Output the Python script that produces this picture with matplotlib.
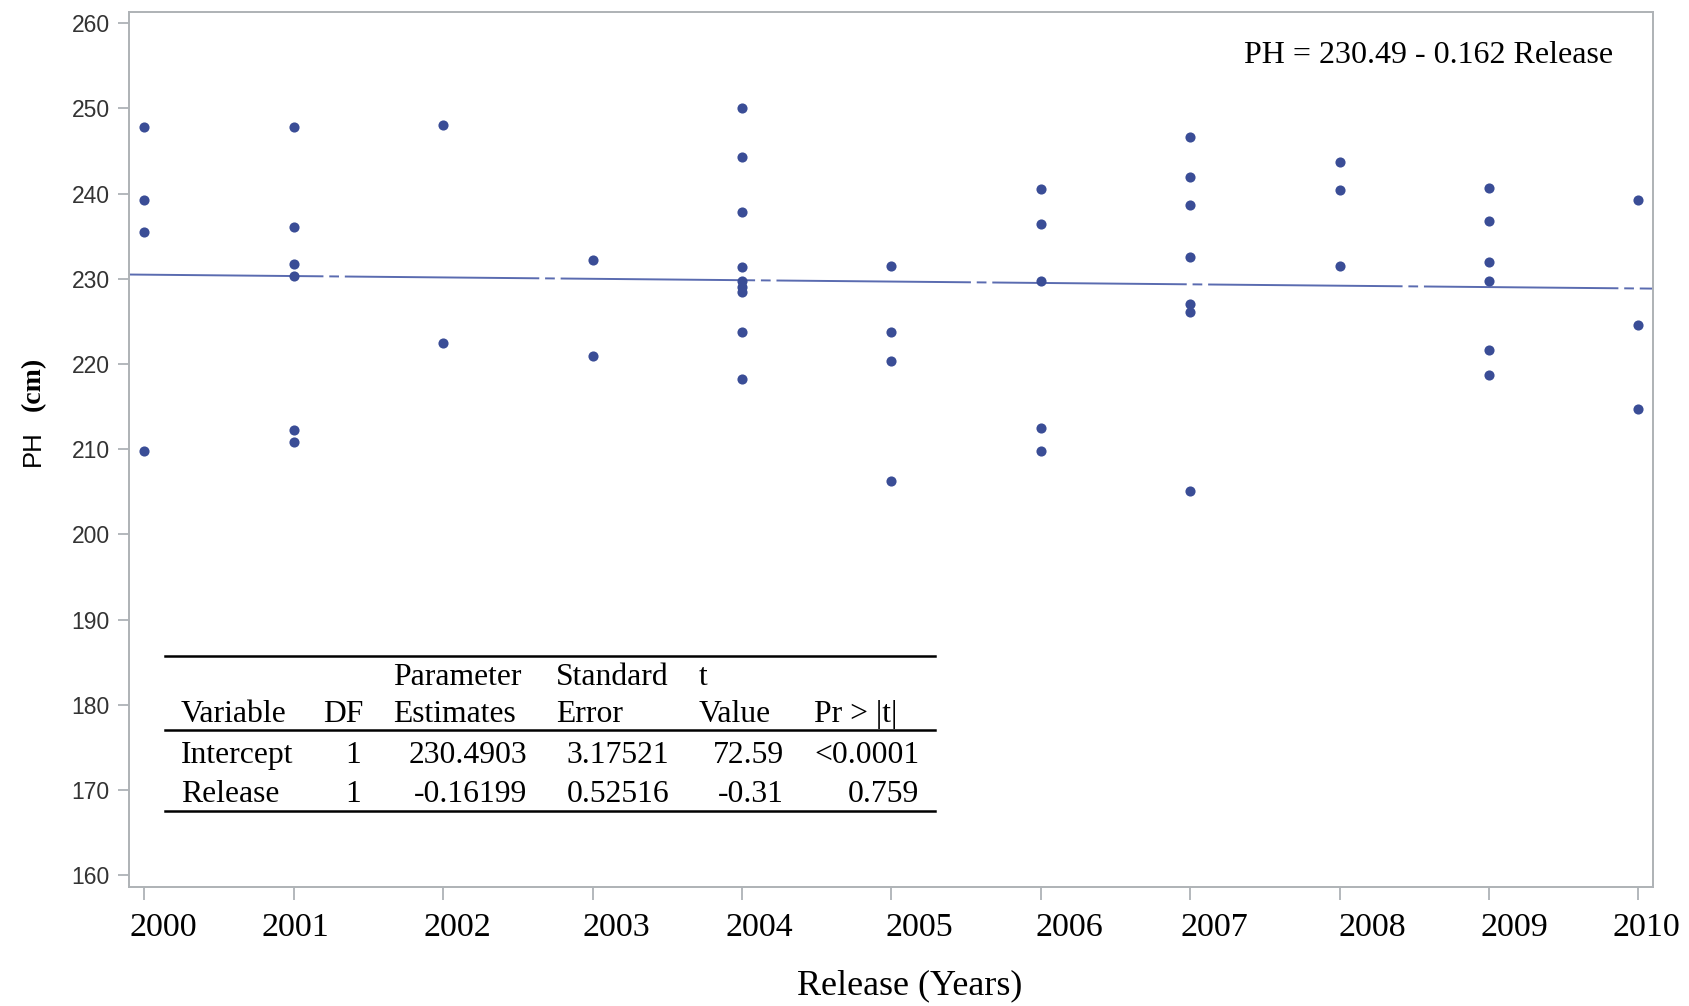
import matplotlib
matplotlib.use("Agg")
import matplotlib.pyplot as plt
from matplotlib.lines import Line2D
from matplotlib.transforms import ScaledTranslation

# ---------------- data ----------------
release_years = [2000, 2001, 2002, 2003, 2004, 2005, 2006, 2007, 2008, 2009, 2010]
ph_2000 = [247.8, 239.3, 235.5, 209.8]
ph_2001 = [247.8, 236.1, 231.7, 230.3, 212.3, 210.8]
ph_2002 = [248.1, 222.5]
ph_2003 = [232.2, 220.9]
ph_2004 = [250.0, 244.3, 237.8, 231.4, 229.7, 229.0, 228.4, 223.7, 218.2]
ph_2005 = [231.5, 223.8, 220.3, 206.3]
ph_2006 = [240.5, 236.4, 229.7, 212.5, 209.8]
ph_2007 = [246.6, 242.0, 238.7, 232.6, 227.1, 226.1, 205.1]
ph_2008 = [243.7, 240.4, 231.5]
ph_2009 = [240.7, 236.8, 232.0, 229.8, 221.6, 218.7]
ph_2010 = [239.3, 224.6, 214.7]

intercept = 230.49
slope = -0.162
y_ticks = [160, 170, 180, 190, 200, 210, 220, 230, 240, 250, 260]

table_header1 = ["", "", "Parameter", "Standard", "t", ""]
table_header2 = ["Variable", "DF", "Estimates", "Error", "Value", "Pr > |t|"]
table_row_intercept = ["Intercept", "1", "230.4903", "3.17521", "72.59", "<0.0001"]
table_row_release = ["Release", "1", "-0.16199", "0.52516", "-0.31", "0.759"]

# ---------------- layout / style ----------------
W, H = 1689, 1006
fig = plt.figure(figsize=(W / 100, H / 100), dpi=100)
ax = fig.add_axes([129 / W, 118.7 / H, 1523.5 / W, 875.3 / H])
ax.set_xlim(1999.898, 2010.094)
ax.set_ylim(158.56, 261.33)

dot_color = "#3a4d96"
line_color = "#5a6bb0"
spine_color = "#aeb2b6"
serif = "Liberation Serif"
sans = "Liberation Sans"

all_ph = [ph_2000, ph_2001, ph_2002, ph_2003, ph_2004, ph_2005,
          ph_2006, ph_2007, ph_2008, ph_2009, ph_2010]
for yr, vals in zip(release_years, all_ph):
    ax.plot([yr] * len(vals), vals, linestyle="none", marker="o",
            markersize=7.3, color=dot_color, markeredgewidth=0, zorder=3)

# regression line across the axis
x0, x1 = ax.get_xlim()
xs = [x0, x1]
ys = [intercept + slope * (x - release_years[0]) for x in xs]
ln, = ax.plot(xs, ys, color=line_color, linewidth=1.4, zorder=2)
ln.set_dashes([100, 3, 5, 3])

for s in ax.spines.values():
    s.set_color(spine_color)
    s.set_linewidth(1.4)

ax.set_yticks(y_ticks)
ax.set_yticklabels([str(v) for v in y_ticks], fontfamily=sans, fontsize=16.5,
                   color="#333333")
ax.set_xticks(release_years)
ax.set_xticklabels([str(y) for y in release_years], fontfamily=serif,
                   fontsize=24.5, color="black")
ax.tick_params(axis="y", length=8, width=1.3, color=spine_color, pad=6)
ax.tick_params(axis="x", length=9, width=1.3, color=spine_color, pad=9)

# x tick labels sit slightly right of their ticks in the reference
label_shift_px = [19, 2, 14, 24, 17, 28, 29, 24, 33, 25, 8]
for lab, dx in zip(ax.get_xticklabels(), label_shift_px):
    lab.set_transform(lab.get_transform() +
                      ScaledTranslation(dx / 100, 0, fig.dpi_scale_trans))

# equation
fig.text(1613 / W, 1 - 63 / H, "PH = 230.49 - 0.162 Release",
         fontfamily=serif, fontsize=23, ha="right", va="baseline")

# axis labels
fig.text(910 / W, 1 - 986 / H, "Release (Years)", fontfamily=serif,
         fontsize=26, ha="center", va="center")
fig.text(33 / W, 1 - 448 / H, "PH", fontfamily=sans, fontsize=18.5,
         rotation=90, ha="center", va="center")
fig.text(33 / W, 1 - 384 / H, "(cm)", fontfamily=serif, fontsize=20,
         fontweight="bold", rotation=90, ha="center", va="center")

# ---------------- parameter table ----------------
def fx(px):
    return px / W


def fy(py):
    return 1 - py / H

for yline in (656, 730, 811):
    fig.add_artist(Line2D([fx(165), fx(935)], [fy(yline), fy(yline)],
                          transform=fig.transFigure, color="black",
                          linewidth=1.8))

col_left = [181, 323, 393, 556, 699, 814]
col_right = [None, 361, 527, 669, 784, 919]
tfs = 22.8


def put_row(cells, base, align):
    for i, txt in enumerate(cells):
        if not txt:
            continue
        if align[i] == "left":
            fig.text(fx(col_left[i]), fy(base), txt, fontfamily=serif,
                     fontsize=tfs, ha="left", va="baseline")
        else:
            fig.text(fx(col_right[i]), fy(base), txt, fontfamily=serif,
                     fontsize=tfs, ha="right", va="baseline")

put_row(table_header1, 685, ["left"] * 6)
put_row(table_header2, 722, ["left"] * 6)
num_align = ["left", "right", "right", "right", "right", "right"]
put_row(table_row_intercept, 763, num_align)
put_row(table_row_release, 802, num_align)

fig.savefig("out.png", dpi=100, facecolor="white")
